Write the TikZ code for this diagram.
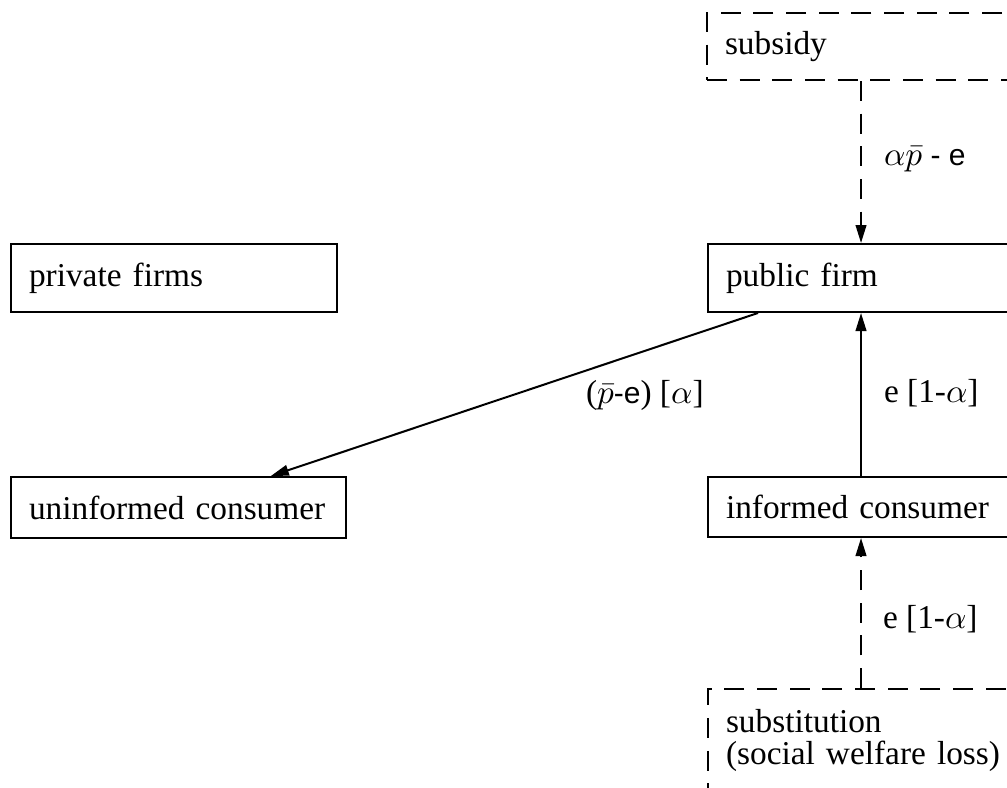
\documentclass[tikz,border=0pt]{standalone}
\usepackage{fontspec}
\setmainfont{Liberation Serif}
\setsansfont{Liberation Sans}
\usetikzlibrary{arrows.meta}
\newcommand{\sfe}[1]{{\sffamily\fontsize{9}{9.6}\selectfont #1}}
\begin{document}
\begin{tikzpicture}[x=0.3pt,y=-0.3pt, line width=0.6pt,
  font=\fontsize{10}{9.6}\selectfont,
  box/.style={draw, line width=0.6pt, anchor=north west, inner xsep=5.4pt, inner ysep=0pt,
    align=left, text width=87pt, minimum height=20.4pt},
  dbox/.style={box, dash pattern=on 6pt off 3.8pt},
  lbl/.style={anchor=base west, inner sep=0pt},
  arr/.style={-{Triangle[length=5.4pt,width=3.2pt]}},
  darr/.style={arr, dash pattern=on 6pt off 3.8pt}]
\useasboundingbox (0,0) rectangle (1007,787);
\clip (0,0) rectangle (1007,787);
\coordinate (vx) at (861,0);
\node[box] (priv) at (10,243) {private firms};
\node[box, text width=89.7pt, minimum height=18.3pt] (uninf) at (10,476) {uninformed consumer};
\node[box, text width=92pt] (pub) at (707,243) {public firm};
\node[box, text width=92pt, minimum height=18pt] (inf) at (707,476) {informed consumer};
\node[dbox, text width=92pt, minimum height=20.1pt] (subsidy) at (706,12) {subsidy};
\node[dbox, text width=92pt, inner ysep=6pt] (subst) at (707,688) {substitution\\(social welfare loss)};
\draw[darr] (subsidy.south -| vx) -- (pub.north -| vx);
\draw[arr] (inf.north -| vx) -- (pub.south -| vx);
\draw[darr] (subst.north -| vx) -- (inf.south -| vx);
\draw[arr] ([xshift=15.3pt]pub.south west) -- ([xshift=27.7pt]uninf.north);
\node[lbl] (l1) at (883,165) {$\alpha\bar{p}$ \sfe{- e}};
\node[lbl] (l2) at (585,403) {($\bar{p}$\sfe{-e}) [$\alpha$]};
\node[lbl] (l3) at (883,402) {e [1-$\alpha$]};
\node[lbl] (l4) at (882,628) {e [1-$\alpha$]};
\end{tikzpicture}
\end{document}
